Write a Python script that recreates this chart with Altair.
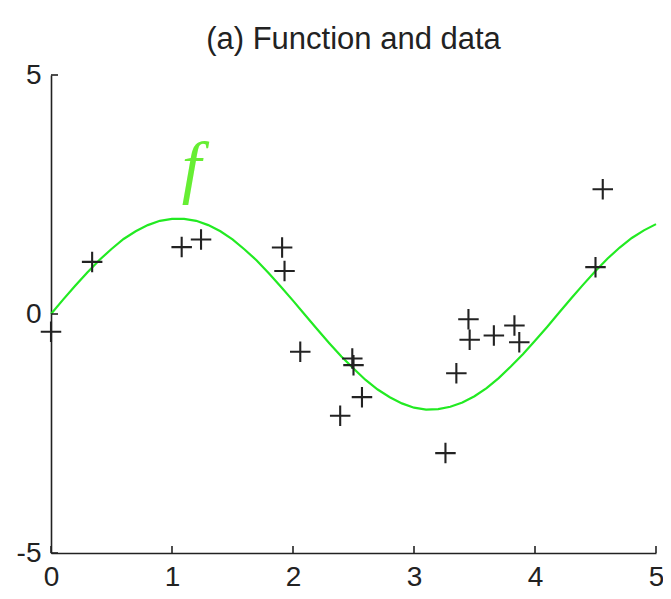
import altair as alt
import pandas as pd

# ---- data ----
data_x = [0.00, 0.34, 1.08, 1.24, 1.91, 1.93, 2.06, 2.49, 2.50, 2.57,
          2.39, 3.26, 3.35, 3.45, 3.46, 3.66, 3.83, 3.87, 4.50, 4.56]
data_y = [-0.37, 1.09, 1.40, 1.56, 1.39, 0.90, -0.79, -0.93, -1.07, -1.74,
          -2.13, -2.91, -1.24, -0.11, -0.54, -0.45, -0.24, -0.59, 0.98, 2.61]

curve_x = [0.0, 0.1, 0.2, 0.3, 0.4, 0.5, 0.6, 0.7, 0.8, 0.9,
           1.0, 1.1, 1.2, 1.3, 1.4, 1.5, 1.6, 1.7, 1.8, 1.9,
           2.0, 2.1, 2.2, 2.3, 2.4, 2.5, 2.6, 2.7, 2.8, 2.9,
           3.0, 3.1, 3.2, 3.3, 3.4, 3.5, 3.6, 3.7, 3.8, 3.9,
           4.0, 4.1, 4.2, 4.3, 4.4, 4.5, 4.6, 4.7, 4.8, 4.9, 5.0]
curve_y = [0.00, 0.30, 0.59, 0.87, 1.13, 1.36, 1.57, 1.73, 1.86, 1.95,
           1.99, 1.99, 1.95, 1.86, 1.73, 1.56, 1.35, 1.12, 0.85, 0.57,
           0.28, -0.02, -0.32, -0.61, -0.89, -1.14, -1.38, -1.58, -1.74, -1.87,
           -1.96, -2.00, -1.99, -1.94, -1.85, -1.72, -1.55, -1.34, -1.10, -0.84,
           -0.56, -0.27, 0.03, 0.33, 0.62, 0.90, 1.16, 1.39, 1.59, 1.75, 1.88]

x_ticks = [0, 1, 2, 3, 4, 5]
y_ticks = [-5, 0, 5]

label_text = ["f"]
label_x = [1.16]
label_y = [2.6]

title_text = "(a) Function and data"

# ---- layout / style ----
W, H = 605, 478
TICK = 7
INK = "#222222"
GREEN = "#22ea22"
FONT = "Liberation Sans"

xs = alt.Scale(domain=[0, 5], nice=False, zero=False)
ys = alt.Scale(domain=[-5, 5], nice=False, zero=False)

x_axis = alt.Axis(values=x_ticks, tickSize=0, labelPadding=10, labelFontSize=28,
                  labelFont=FONT, labelColor=INK, domainColor=INK, domainWidth=1.6,
                  grid=False, title=None, labelFlush=False,
                  labelExpr="datum.value + ''")
y_axis = alt.Axis(values=y_ticks, tickSize=0, labelPadding=10, labelFontSize=28,
                  labelFont=FONT, labelColor=INK, domainColor=INK, domainWidth=1.6,
                  grid=False, title=None, labelFlush=False,
                  labelExpr="datum.value + ''")

curve_df = pd.DataFrame({"x": curve_x, "y": curve_y})
pts_df = pd.DataFrame({"x": data_x, "y": data_y})
xt_df = pd.DataFrame({"t": x_ticks})
yt_df = pd.DataFrame({"t": y_ticks})
lab_df = pd.DataFrame({"x": label_x, "y": label_y, "text": label_text})

base_axes = alt.Chart(curve_df).mark_line(color=GREEN, strokeWidth=2.2).encode(
    x=alt.X("x:Q", scale=xs, axis=x_axis),
    y=alt.Y("y:Q", scale=ys, axis=y_axis),
)

points = alt.Chart(pts_df).mark_point(
    shape="M-1,0L1,0M0,-1L0,1", size=420, strokeWidth=2.1, color=INK,
    filled=False, opacity=1,
).encode(
    x=alt.X("x:Q", scale=xs),
    y=alt.Y("y:Q", scale=ys),
)

xticks = alt.Chart(xt_df).mark_rule(color=INK, strokeWidth=1.6).encode(
    x=alt.X("t:Q", scale=xs),
    y=alt.value(H),
    y2=alt.value(H - TICK),
)

yticks = alt.Chart(yt_df).mark_rule(color=INK, strokeWidth=1.6).encode(
    y=alt.Y("t:Q", scale=ys),
    x=alt.value(0),
    x2=alt.value(TICK),
)

flabel = alt.Chart(lab_df).mark_text(
    font="Liberation Serif", fontStyle="italic", fontSize=70, color="#66ee33",
    align="center", baseline="alphabetic",
).encode(
    x=alt.X("x:Q", scale=xs),
    y=alt.Y("y:Q", scale=ys),
    text="text:N",
)

chart = alt.layer(base_axes, points, xticks, yticks, flabel).properties(
    width=W, height=H,
    title=alt.TitleParams(title_text, fontSize=31, font=FONT, fontWeight="normal",
                          color=INK, anchor="middle", baseline="alphabetic", offset=-19),
    autosize=alt.AutoSizeParams(type="none"),
    padding={"left": 43, "top": 67, "right": 7, "bottom": 38},
).configure(background="white").configure_view(stroke=None)

chart.save("out.html", embed_options={"renderer": "svg", "actions": False})
